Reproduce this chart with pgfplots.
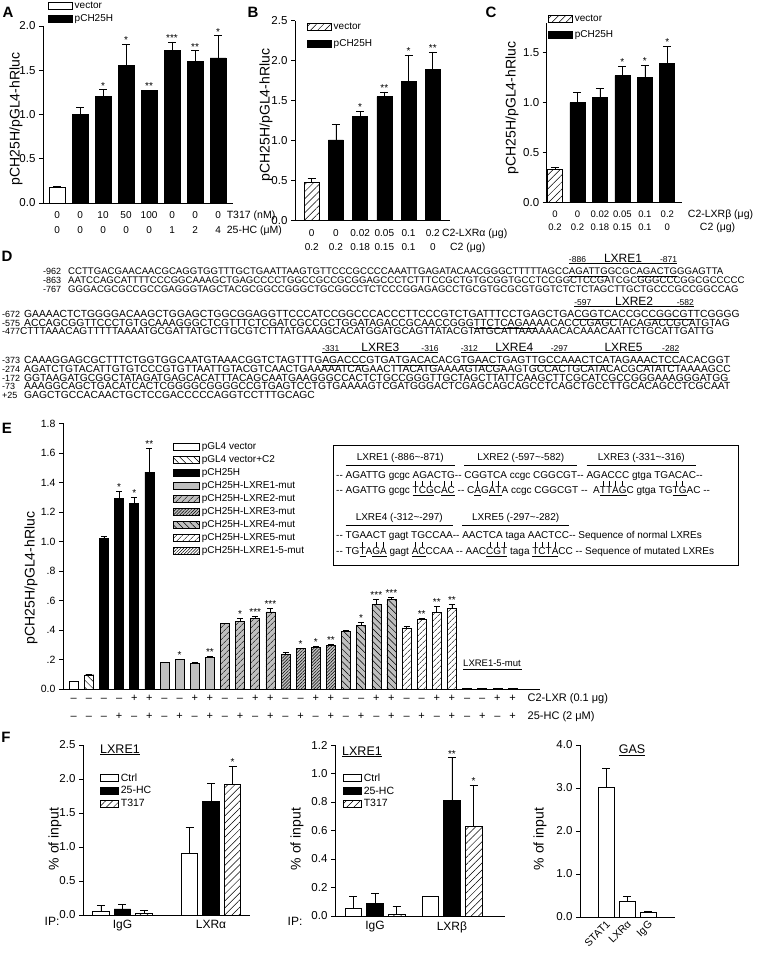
\documentclass[border=0pt]{standalone}
\usepackage{fontspec}
\setmainfont{Liberation Sans}
\usepackage{pgfplots}
\pgfplotsset{compat=1.18}
\usetikzlibrary{patterns,patterns.meta}
\newcommand\fs[1]{\fontsize{#1}{#1}\selectfont}
\newcommand\fsb[2]{\fontsize{#1}{#2}\selectfont}
\newcommand\Mi{\textendash}
\newcommand\tl[2]{\begin{tabular}{@{}c@{}}#1\\#2\end{tabular}}
\newcommand\tle[2]{\begin{tabular}{@{}c@{}}#1\\[6pt]#2\end{tabular}}
\def\lw{24pt}
\newcommand\ol[4]{\setbox0\hbox{#4}\rlap{\raisebox{10.5pt}{\rule{\wd0}{0.6pt}}}\rlap{\raisebox{12pt}{\hbox to\wd0{\fs{8.5}#1\hfil\fs{12}#2\hfil\fs{8.5}#3}}}\box0}
\newcommand\hd[2]{\setbox0\hbox{#2}\rlap{\raisebox{12.5pt}{\rule{\wd0}{0.6pt}}}\rlap{\raisebox{18pt}{\hbox to\wd0{\hss#1\hss}}}\box0}
\newcommand\mt[1]{\setbox2\hbox{#1}\rlap{\hbox to\wd2{\hss\rule[8pt]{0.5pt}{4.5pt}\hss}}\underline{#1}}
\definecolor{barg}{gray}{0.75}
\pgfplotsset{
 panel/.style={scale only axis, axis x line*=bottom, axis y line*=left,
  axis line style={line width=0.8pt}, tick align=outside, major tick length=4pt,
  tick style={black, line width=0.8pt},
  every major x tick/.append style={draw=none},
  /pgf/number format/assume math mode=true,
  yticklabel style={font=\fs{11.5}, /pgf/number format/fixed, /pgf/number format/fixed zerofill, /pgf/number format/precision=1},
  xticklabel style={font=\fsb{10}{14.5}, yshift=2pt},
  clip=false, legend cell align=left,
  legend style={draw=none, fill=none, font=\fs{10}, inner sep=0pt}},
 mybar/.style={ybar, bar shift=0pt, draw=black, line width=0.7pt,
  legend image code/.code={\draw[##1, draw=black, line width=0.6pt] (0pt,-3.5pt) rectangle (\lw,3.5pt);},
  /pgfplots/error bars/y dir=plus, /pgfplots/error bars/y explicit,
  /pgfplots/error bars/error bar style={line width=0.7pt, black},
  /pgfplots/error bars/error mark options={rotate=90, mark size=4pt, line width=0.7pt, black}},
 eb/.style={mybar, bar width=9pt, line width=0.6pt,
  /pgfplots/error bars/error mark options={rotate=90, mark size=3pt, line width=0.6pt, black}},
 stars/.style={forget plot, draw=none, mark=none, nodes near coords, point meta=explicit symbolic,
  every node near coord/.append style={anchor=south, font=\fs{10}, inner sep=0.5pt}},
}
\begin{document}
\begin{tikzpicture}[x=1pt,y=1pt]
\path[use as bounding box] (0,0) rectangle (758,956);
% panel letters
\node[font=\bfseries\fs{15}] at (8,944) {A};
\node[font=\bfseries\fs{15}] at (253,944) {B};
\node[font=\bfseries\fs{15}] at (491,944) {C};
\node[font=\bfseries\fs{15}] at (7,700) {D};
\node[font=\bfseries\fs{15}] at (7,528) {E};
\node[font=\bfseries\fs{15}] at (6,219) {F};
% y labels
\node[rotate=90, font=\fs{14}] at (16,837) {pCH25H/pGL4-hRluc};
\node[rotate=90, font=\fs{14}] at (266,841) {pCH25H/pGL4-hRluc};
\node[rotate=90, font=\fs{14}] at (512,848) {pCH25H/pGL4-hRluc};
\node[rotate=90, font=\fs{14}] at (31,378) {pCH25H/pGL4-hRluc};
\node[rotate=90, font=\fs{14}] at (55,117) {\% of input};
\node[rotate=90, font=\fs{14}] at (297,117) {\% of input};
\node[rotate=90, font=\fs{14}] at (540,117) {\% of input};

% ---------- A
\begin{axis}[panel, at={(43pt,753pt)}, anchor=south west, width=190pt, height=177pt,
 xmin=0.39, xmax=8.65, ymin=0, ymax=2, ytick={0,0.5,1,1.5,2},
 xtick={1,2,3,4,5,6,7,8},
 xticklabels={{\tl{0}{0}},{\tl{0}{0}},{\tl{10}{0}},{\tl{50}{0}},{\tl{100}{0}},{\tl{0}{1}},{\tl{0}{2}},{\tl{0\rlap{\hspace{6pt}\fs{10.5}T317 (nM)}}{4\rlap{\hspace{6pt}\fs{10.5}25-HC (μM)}}}},
 legend style={at={(axis description cs:0.026,1.15)}, anchor=north west, row sep=1pt}]
\addplot[mybar, bar width=16pt, fill=white] coordinates {(1,0.18) +- (0,0.01)};
\addplot[mybar, bar width=16pt, fill=black] coordinates {(2,1.0) +- (0,0.08) (3,1.2) +- (0,0.08) (4,1.55) +- (0,0.24) (5,1.27) +- (0,0.003) (6,1.72) +- (0,0.1) (7,1.6) +- (0,0.12) (8,1.64) +- (0,0.25)};
\legend{vector,pCH25H}
\addplot[stars] coordinates {(3,1.28) [*] (4,1.79) [*] (5,1.275) [**] (6,1.82) [***] (7,1.72) [**] (8,1.89) [*]};
\end{axis}

% ---------- B
\begin{axis}[panel, at={(295pt,735.3pt)}, anchor=south west, width=155pt, height=200pt,
 xmin=0.31, xmax=6.71, ymin=0, ymax=2.5, ytick={0,0.5,1,1.5,2,2.5},
 xtick={1,2,3,4,5,6},
 xticklabels={{\tl{0}{0.2}},{\tl{0}{0.2}},{\tl{0.02}{0.18}},{\tl{0.05}{0.15}},{\tl{0.1}{0.1}},{\tl{0.2\rlap{\hspace{2.3pt}\fs{10.5}C2-LXRα (μg)}}{0\rlap{\hspace{14.5pt}\fs{10.5}C2 (μg)}}}},
 legend style={at={(axis description cs:0.077,1.0)}, anchor=north west, row sep=5pt}]
\addplot[mybar, bar width=15pt, fill=white, postaction={pattern={Lines[angle=45,distance=5pt,line width=0.5pt]}}] coordinates {(1,0.48) +- (0,0.05)};
\addplot[mybar, bar width=15pt, fill=black] coordinates {(2,1.01) +- (0,0.2) (3,1.3) +- (0,0.07) (4,1.55) +- (0,0.06) (5,1.74) +- (0,0.33) (6,1.89) +- (0,0.22)};
\legend{vector,pCH25H}
\addplot[stars] coordinates {(3,1.37) [*] (4,1.61) [**] (5,2.07) [*] (6,2.11) [**]};
\end{axis}

% ---------- C
\begin{axis}[panel, at={(546.7pt,753.3pt)}, anchor=south west, width=135pt, height=180pt,
 xmin=0.63, xmax=6.64, ymin=0, ymax=1.8, ytick={0,0.5,1,1.5},
 xtick={1,2,3,4,5,6}, xticklabel style={font=\fsb{9.5}{13}},
 xticklabels={{\tl{0}{0.2}},{\tl{0}{0.2}},{\tl{0.02}{0.18}},{\tl{0.05}{0.15}},{\tl{0.1}{0.1}},{\tl{0.2\rlap{\hspace{14pt}\fs{10.5}C2-LXRβ (μg)}}{0\rlap{\hspace{30pt}\fs{10.5}C2 (μg)}}}},
 legend style={at={(axis description cs:0.01,1.055)}, anchor=north west, row sep=4pt}]
\addplot[mybar, bar width=15pt, fill=white, postaction={pattern={Lines[angle=45,distance=5pt,line width=0.5pt]}}] coordinates {(1,0.33) +- (0,0.02)};
\addplot[mybar, bar width=15pt, fill=black] coordinates {(2,1.0) +- (0,0.1) (3,1.05) +- (0,0.09) (4,1.27) +- (0,0.09) (5,1.25) +- (0,0.12) (6,1.39) +- (0,0.17)};
\legend{vector,pCH25H}
\addplot[stars] coordinates {(4,1.36) [*] (5,1.37) [*] (6,1.56) [*]};
\end{axis}

% ---------- D
\begin{scope}[every node/.style={anchor=base west, inner sep=0pt, font=\fs{10.3}}]
\node[font=\fs{9}] at (43,956-274.6) {-962};
\node[font=\fs{9.6}] at (68,956-274.6) {CCTTGACGAACAACGCAGGTGGTTTGCTGAATTAAGTGTTCCCGCCCCAAATTGAGATACAACGGGCTTTTTAGCC\ol{-886}{LXRE1}{-871}{\underline{AGATTG}GCGC\underline{AGACTG}}GGAGTTA};
\node[font=\fs{9}] at (43,956-283.6) {-863};
\node[font=\fs{9.6}] at (68,956-283.6) {AATCCAGCATTTTCCCGGCAAAGCTGAGCCCCTGGCCGCCGCGGAGCCCTCTTTCCGCTGTGCGGTGCCTCCGGCTCCGATCGCGGGCCCGGCGCCCCC};
\node[font=\fs{9}] at (43,956-292.6) {-767};
\node[font=\fs{9.6}] at (68,956-292.6) {GGGACGCGCCGCCGAGGGTAGCTACGCGGCCGGGCTGCGGCCTCTCCCGGAGAGCCTGCGTGCGCGTGGTCTCTCTAGCTTGCTGCCCGCCGGCCAG};
\node[font=\fs{9}] at (2,956-317.5) {-672};
\node at (24,956-317.5) {GAAAACTCTGGGGACAAGCTGGAGCTGGCGGAGGTTCCCATCCGGCCCACCCTTCCCGTCTGATTTCCTGAGCTGA\ol{-597}{LXRE2}{-582}{\underline{CGGTCA}CCGC\underline{CGGCGT}}TCGGGG};
\node[font=\fs{9}] at (2,956-326.3) {-575};
\node at (24,956-326.3) {ACCAGCGGTTCCCTGTGCAAAGGGCTCGTTTCTCGATCGCCGCTGGATAGACCGCAACCGGG\underline{TTCTCAGAA}AACACCCGAGCTACAGACCGCATGTAG};
\node[font=\fs{9}] at (2,956-334.5) {-477};
\node[font=\fs{10.1}] at (20,956-334.5) {CTTTAAACAGTTTTTAAAATGCGATTATGCTTGCGTCTTTATGAAAGCACATGGATGCAGTTATACGTATGCATTAAAAAACACAAACAATTCTGCATTGATTG};
\node[font=\fs{9}] at (2,956-363.6) {-373};
\node at (24,956-363.6) {CAAAGGAGCGCTTTCTGGTGGCAATGTAAACGGTCTAGTTTG\ol{-331}{LXRE3}{-316}{\underline{AGACCC}GTGA\underline{TGACAC}}ACG\ol{-312}{LXRE4}{-297}{\underline{TGAACT}GAGT\underline{TGCCA}}\ol{\phantom{-297}}{LXRE5}{-282}{\underline{AACTCA}TAGA\underline{AACTCC}}ACACGGT};
\node[font=\fs{9}] at (2,956-372.6) {-274};
\node at (24,956-372.6) {AGATCTGTACATTGTGTCCCGTGTTAATTGTACGTCAACTGAAAAATCAGAACTTACATGAAAAGTACGAAGTGCCACTGCATACACGCATATCTAAAAGCC};
\node[font=\fs{9}] at (2,956-381.3) {-172};
\node at (24,956-381.3) {GGTAAGATGCGGCTATAGATGAGCACATTTACAGCAATGAAGGGCCACTCTGCCGGGTTGCTAGCTTATTCAAGCTTCGCATCGCCGGGAAAGGGATGG};
\node[font=\fs{9}] at (2,956-389.8) {-73};
\node at (24,956-389.8) {AAAGGCAGCTGACATCACTCGGGGCGGGGCCGTGAGTCCTGTGAAAAGTCGATGGGACTCGAGCAGCAGCCTCAGCTGCCTTGCACAGCCTCGCAAT};
\node[font=\fs{9}] at (2,956-398.5) {+25};
\node at (24,956-398.5) {GAGCTGCCACAACTGCTCCGACCCCCAGGTCCTTTGCAGC};
\end{scope}

% ---------- E
\def\lw{26pt}
\begin{axis}[panel, at={(63pt,267pt)}, anchor=south west, width=477pt, height=265.5pt,
 xmin=0.29, xmax=31.82, ymin=0, ymax=1.8,
 ytick={0,0.2,0.4,0.6,0.8,1,1.2,1.4,1.6,1.8}, yticklabels={0.0,.2,.4,.6,.8,1.0,1.2,1.4,1.6,1.8},
 yticklabel style={font=\fs{10.5}},
 xtick={1,...,30}, xticklabel style={font=\fsb{11}{12}, yshift=1pt},
 xticklabels={{\tle{\Mi}{\Mi}},{\tle{\Mi}{\Mi}},
 {\tle{\Mi}{\Mi}},{\tle{\Mi}{+}},{\tle{+}{\Mi}},{\tle{+}{+}},
 {\tle{\Mi}{\Mi}},{\tle{\Mi}{+}},{\tle{+}{\Mi}},{\tle{+}{+}},
 {\tle{\Mi}{\Mi}},{\tle{\Mi}{+}},{\tle{+}{\Mi}},{\tle{+}{+}},
 {\tle{\Mi}{\Mi}},{\tle{\Mi}{+}},{\tle{+}{\Mi}},{\tle{+}{+}},
 {\tle{\Mi}{\Mi}},{\tle{\Mi}{+}},{\tle{+}{\Mi}},{\tle{+}{+}},
 {\tle{\Mi}{\Mi}},{\tle{\Mi}{+}},{\tle{+}{\Mi}},{\tle{+}{+}},
 {\tle{\Mi}{\Mi}},{\tle{\Mi}{+}},{\tle{+}{\Mi}},{\tle{+\rlap{\hspace{12pt}C2-LXR (0.1 μg)}}{+\rlap{\hspace{12pt}25-HC (2 μM)}}}},
 legend style={at={(axis description cs:0.2306,0.935)}, anchor=north west, row sep=0.5pt}]
\addplot[eb, fill=white] coordinates {(1,0.05) +- (0,0.005)};
\addplot[eb, fill=white, postaction={pattern={Lines[angle=-45,distance=5pt,line width=0.5pt]}}] coordinates {(2,0.095) +- (0,0.005)};
\addplot[eb, fill=black] coordinates {(3,1.02) +- (0,0.015) (4,1.29) +- (0,0.05) (5,1.26) +- (0,0.04) (6,1.47) +- (0,0.16)};
\addplot[eb, fill=barg] coordinates {(7,0.18) +- (0,0.003) (8,0.2) +- (0,0.004) (9,0.175) +- (0,0.003) (10,0.213) +- (0,0.01)};
\addplot[eb, fill=barg, postaction={pattern={Lines[angle=45,distance=4pt,line width=0.5pt]}}] coordinates {(11,0.445) +- (0,0.003) (12,0.46) +- (0,0.02) (13,0.477) +- (0,0.015) (14,0.523) +- (0,0.025)};
\addplot[eb, fill=barg, postaction={pattern={Lines[angle=45,distance=2.2pt,line width=0.5pt]}}] coordinates {(15,0.232) +- (0,0.015) (16,0.273) +- (0,0.005) (17,0.28) +- (0,0.008) (18,0.293) +- (0,0.012)};
\addplot[eb, fill=barg, postaction={pattern={Lines[angle=-45,distance=4.5pt,line width=0.5pt]}}] coordinates {(19,0.39) +- (0,0.005) (20,0.43) +- (0,0.02) (21,0.573) +- (0,0.035) (22,0.607) +- (0,0.015)};
\addplot[eb, fill=white, postaction={pattern={Lines[angle=45,distance=4pt,line width=0.5pt]}}] coordinates {(23,0.414) +- (0,0.01) (24,0.47) +- (0,0.01) (25,0.523) +- (0,0.035) (26,0.545) +- (0,0.03)};
\addplot[eb, fill=white, postaction={pattern={Lines[angle=45,distance=2.2pt,line width=0.5pt]}}, /pgfplots/error bars/y dir=none] coordinates {(27,0.004) (28,0.004) (29,0.004) (30,0.004)};
\legend{pGL4 vector,pGL4 vector+C2,pCH25H,pCH25H-LXRE1-mut,pCH25H-LXRE2-mut,pCH25H-LXRE3-mut,pCH25H-LXRE4-mut,pCH25H-LXRE5-mut,pCH25H-LXRE1-5-mut}
\addplot[stars] coordinates {(4,1.34) [*] (5,1.30) [*] (6,1.63) [**] (8,0.204) [*] (10,0.223) [**] (12,0.48) [*] (13,0.492) [***] (14,0.548) [***] (16,0.278) [*] (17,0.288) [*] (18,0.305) [**] (20,0.45) [*] (21,0.608) [***] (22,0.622) [***] (24,0.48) [**] (25,0.558) [**] (26,0.575) [**]};
\end{axis}
\node[font=\fs{9.5}, inner sep=0pt] at (492,956-663) {LXRE1-5-mut};
\draw[line width=0.7pt] (463,956-669) -- (522,956-669);

% inset
\draw[line width=0.9pt] (333,956-445) rectangle (738,956-565);
\begin{scope}[every node/.style={anchor=base west, inner sep=0pt, font=\fs{10}}]
\node at (336,956-478.6) {-{}- \hd{LXRE1 (-886\textasciitilde-871)}{AGATTG gcgc AGACTG} -{}- \hd{LXRE2 (-597\textasciitilde-582)}{CGGTCA ccgc CGGCGT} -{}- \hd{LXRE3 (-331\textasciitilde-316)}{AGACCC gtga TGACAC} -{}-};
\node at (336,956-493.6) {-{}- AGATTG gcgc \mt{T}\mt{C}\mt{G}C\mt{A}\mt{C} -{}- C\mt{A}G\mt{A}\mt{T}A ccgc CGGCGT -{}- \ A\mt{T}\mt{T}\mt{A}\mt{G}C gtga TG\mt{T}\mt{G}AC -{}-};
\node at (336,956-538.6) {-{}- \hd{LXRE4 (-312\textasciitilde-297)}{TGAACT gagt TGCCAA} -{}- \hd{LXRE5 (-297\textasciitilde-282)}{AACTCA taga AACTCC} -{}- Sequence of normal LXREs};
\node at (336,956-554.6) {-{}- TG\mt{T}A\mt{G}\mt{A} gagt \mt{A}\mt{C}CCAA -{}- AAC\mt{C}\mt{G}\mt{T} taga \mt{T}\mt{C}\mt{T}\mt{A}CC -{}- Sequence of mutated LXREs};
\end{scope}

% ---------- F1
\def\lw{18pt}
\begin{axis}[panel, at={(83pt,41pt)}, anchor=south west, width=167pt, height=170pt,
 xmin=0.554, xmax=2.44, ymin=0, ymax=2.5, ytick={0,0.5,1,1.5,2,2.5},
 xtick={1,2}, xticklabels={IgG,LXRα}, xticklabel style={font=\fs{12}, yshift=0pt},
 legend style={at={(axis description cs:0.102,0.845)}, anchor=north west, font=\fs{10.5}, row sep=0pt}]
\addplot[mybar, bar width=16.5pt, fill=white] coordinates {(0.757,0.05) +- (0,0.09) (1.757,0.91) +- (0,0.38)};
\addplot[mybar, bar width=16.5pt, fill=black] coordinates {(1,0.09) +- (0,0.07) (2,1.67) +- (0,0.27)};
\addplot[mybar, bar width=16.5pt, fill=white, postaction={pattern={Lines[angle=45,distance=5pt,line width=0.5pt]}}] coordinates {(1.243,0.02) +- (0,0.045) (2.243,1.92) +- (0,0.27)};
\legend{Ctrl,25-HC,T317}
\addplot[stars] coordinates {(2.243,2.19) [*]};
\end{axis}
\node[font=\fs{12.5}] at (120,956-750) {\underline{LXRE1}};
\node[font=\fs{12}] at (52,956-921) {IP:};

% ---------- F2
\begin{axis}[panel, at={(335pt,40pt)}, anchor=south west, width=170pt, height=171pt,
 xmin=0.48, xmax=2.69, ymin=0, ymax=1.2, ytick={0,0.2,0.4,0.6,0.8,1,1.2},
 xtick={1,2}, xticklabels={IgG,LXRβ}, xticklabel style={font=\fs{12}, yshift=0pt},
 legend style={at={(axis description cs:0.047,0.845)}, anchor=north west, font=\fs{10.5}, row sep=0pt}]
\addplot[mybar, bar width=16.5pt, fill=white] coordinates {(0.718,0.055) +- (0,0.085) (1.718,0.136) +- (0,0.004)};
\addplot[mybar, bar width=16.5pt, fill=black] coordinates {(1,0.089) +- (0,0.07) (2,0.81) +- (0,0.3)};
\addplot[mybar, bar width=16.5pt, fill=white, postaction={pattern={Lines[angle=45,distance=5pt,line width=0.5pt]}}] coordinates {(1.282,0.012) +- (0,0.053) (2.282,0.63) +- (0,0.29)};
\legend{Ctrl,25-HC,T317}
\addplot[stars] coordinates {(2,1.11) [**] (2.282,0.92) [*]};
\end{axis}
\node[font=\fs{12.5}] at (362,956-752) {\underline{LXRE1}};
\node[font=\fs{12}] at (295,956-921) {IP:};

% ---------- F3
\begin{axis}[panel, at={(580pt,39pt)}, anchor=south west, width=95pt, height=172pt,
 xmin=-0.25, xmax=4.27, ymin=0, ymax=4, ytick={0,1,2,3,4},
 xtick={1,2,3}, xticklabels={STAT1,LXRα,IgG},
 xticklabel style={font=\fs{10.5}, rotate=45, anchor=north east, yshift=1pt, inner sep=1pt}]
\addplot[mybar, bar width=16pt, fill=white] coordinates {(1,3.02) +- (0,0.43) (2,0.37) +- (0,0.11) (3,0.1) +- (0,0.03)};
\end{axis}
\node[font=\fs{12.5}] at (632,956-750) {\underline{GAS}};
\end{tikzpicture}
\end{document}
